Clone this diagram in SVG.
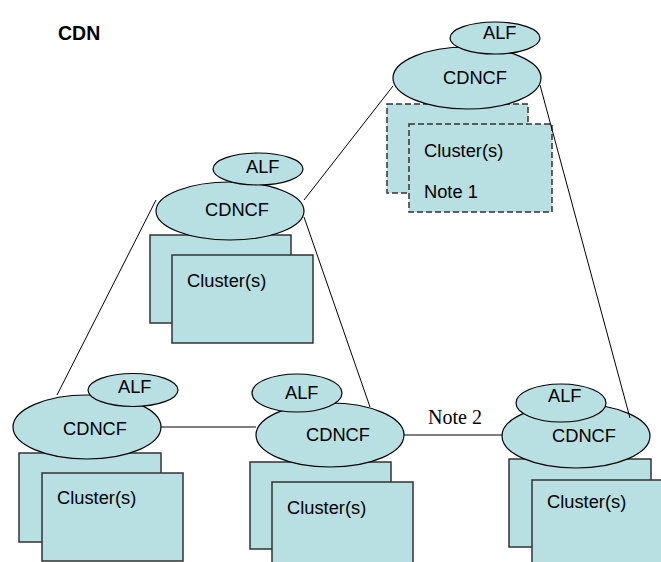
<svg xmlns="http://www.w3.org/2000/svg" width="661" height="562" viewBox="0 0 661 562">
<style>
.bg{fill:#ffffff}
.ell{fill:#b8dfe1;stroke:#000;stroke-width:1.2}
.box{fill:#b8dfe1;stroke:#333;stroke-width:1.5}
.dash{stroke-dasharray:6 3}
.t{font-family:"Liberation Sans",Arial,sans-serif;font-size:18.3px;fill:#000}
.title{font-family:"Liberation Sans",Arial,sans-serif;font-size:19.5px;font-weight:bold;fill:#000}
.note{font-family:"Liberation Serif","Times New Roman",serif;font-size:20px;fill:#000}
.conn{stroke:#000;stroke-width:1;fill:none}
</style>
<rect class="bg" x="0" y="0" width="661" height="562"/>
<text class="title" x="58" y="40">CDN</text>

<g id="node-top">
<rect class="box dash" x="387" y="104" width="141" height="89"/>
<rect class="box dash" x="409" y="124" width="143" height="88"/>
<text class="t" x="424" y="157">Cluster(s)</text>
<text class="t" x="424" y="198">Note 1</text>
<ellipse class="ell" cx="467" cy="78" rx="74" ry="31"/>
<text class="t" x="443" y="84">CDNCF</text>
<ellipse class="ell" cx="495" cy="38" rx="45" ry="16"/>
<text class="t" x="483" y="39">ALF</text>
</g>

<g id="node-mid">
<rect class="box" x="150" y="235" width="141" height="88"/>
<rect class="box" x="172" y="255" width="141" height="88"/>
<text class="t" x="187" y="287">Cluster(s)</text>
<ellipse class="ell" cx="230" cy="211" rx="74" ry="29"/>
<text class="t" x="205" y="216">CDNCF</text>
<ellipse class="ell" cx="258" cy="169" rx="45" ry="16"/>
<text class="t" x="246" y="173">ALF</text>
</g>

<g id="node-bl">
<rect class="box" x="19" y="453" width="142" height="89"/>
<rect class="box" x="42" y="473" width="141" height="88"/>
<text class="t" x="57" y="504">Cluster(s)</text>
<ellipse class="ell" cx="87" cy="427" rx="74" ry="32"/>
<text class="t" x="63" y="435">CDNCF</text>
<ellipse class="ell" cx="133" cy="390" rx="45" ry="16.5"/>
<text class="t" x="118" y="393">ALF</text>
</g>

<g id="node-bm">
<rect class="box" x="250" y="462" width="141" height="87"/>
<rect class="box" x="272" y="482" width="141" height="88"/>
<text class="t" x="287" y="514">Cluster(s)</text>
<ellipse class="ell" cx="330" cy="435" rx="74" ry="32"/>
<text class="t" x="306" y="441">CDNCF</text>
<ellipse class="ell" cx="297" cy="393" rx="45" ry="19"/>
<text class="t" x="285" y="399">ALF</text>
</g>

<g id="node-br">
<rect class="box" x="509" y="459" width="142" height="88"/>
<rect class="box" x="532" y="480" width="141" height="88"/>
<text class="t" x="547" y="508">Cluster(s)</text>
<ellipse class="ell" cx="576" cy="436" rx="74" ry="32"/>
<text class="t" x="552" y="442">CDNCF</text>
<ellipse class="ell" cx="561" cy="403" rx="45" ry="19"/>
<text class="t" x="548" y="402">ALF</text>
</g>

<g id="connectors">
<line class="conn" x1="304" y1="200" x2="393" y2="86"/>
<line class="conn" x1="540" y1="85" x2="630" y2="418"/>
<line class="conn" x1="156" y1="200" x2="57" y2="395"/>
<line class="conn" x1="304" y1="217" x2="370" y2="407"/>
<line class="conn" x1="161" y1="427" x2="256" y2="427"/>
<line class="conn" x1="404" y1="435" x2="502" y2="435"/>
<text class="note" x="428" y="424">Note 2</text>
</g>
</svg>
